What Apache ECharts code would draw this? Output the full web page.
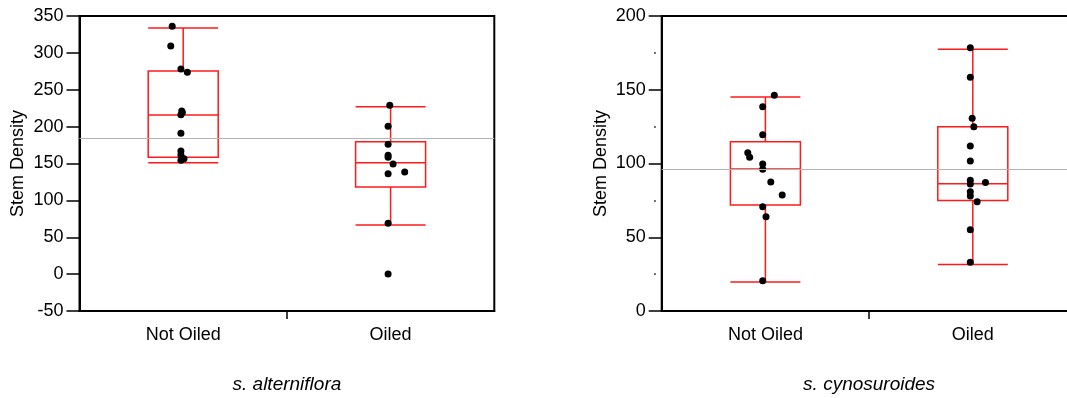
<!DOCTYPE html>
<html>
<head>
<meta charset="utf-8">
<script src="https://cdn.jsdelivr.net/npm/echarts@6/dist/echarts.min.js"></script>
<style>
  html, body { margin: 0; padding: 0; background: #fff; }
  #chart { width: 1067px; height: 398px; }
</style>
</head>
<body>
<div id="chart"></div>
<script>
// Categories and panel captions
const categories = ['Not Oiled', 'Oiled'];
const panelTitles = ['s. alterniflora', 's. cynosuroides'];
const yLabel = 'Stem Density';

// s. alterniflora: box stats [lower whisker, Q1, median, Q3, upper whisker]
const altBoxNotOiled = [151.1, 158.4, 215.8, 275.4, 333.7];
const altBoxOiled = [66.6, 118.1, 151.1, 179.6, 227.0];
// s. alterniflora: individual plots (value) and horizontal spread within the category
const altNotOiled = [336, 309.3, 278.1, 273.6, 221.2, 219, 216.2, 190.9, 167, 161.5, 156.5, 154.5];
const altNotOiledJitter = [-0.053, -0.060, -0.011, 0.020, -0.007, -0.004, -0.011, -0.011, -0.011, -0.011, 0.004, -0.011];
const altOiled = [228.9, 200.4, 176, 161.1, 158.4, 149.3, 136.2, 138.5, 68.9, 0.2];
const altOiledJitter = [-0.004, -0.012, -0.012, -0.012, -0.012, 0.012, -0.012, 0.068, -0.012, -0.012];
const altMean = 184.7;
const altAxis = { min: -50, max: 350, step: 50 };

// s. cynosuroides
const cynBoxNotOiled = [19.7, 71.9, 96.3, 114.8, 145.1];
const cynBoxOiled = [31.6, 75.0, 86.3, 125.0, 177.4];
const cynNotOiled = [146.2, 138.5, 119.5, 107.3, 104.2, 99.7, 96.1, 87.5, 78.6, 70.7, 63.9, 20.5];
const cynNotOiledJitter = [0.043, -0.013, -0.013, -0.085, -0.076, -0.013, -0.013, 0.026, 0.081, -0.013, 0.003, -0.013];
const cynOiled = [178.5, 158.4, 130.6, 125, 111.9, 101.7, 88.6, 87.2, 86.1, 80.9, 78, 74.1, 55.1, 33];
const cynOiledJitter = [-0.012, -0.012, -0.003, 0.005, -0.012, -0.012, -0.012, 0.061, -0.012, -0.012, -0.012, 0.021, -0.012, -0.012];
const cynMean = 96.3;
const cynAxis = { min: 0, max: 200, step: 50 };

const FONT = 'Liberation Sans, Arial, sans-serif';
const FS = 18;
const TITLE_FS = 19;
const RED = '#ff1a1a';

const panels = [
  { left: 79.5, title: panelTitles[0], axis: altAxis, boxes: [altBoxNotOiled, altBoxOiled],
    pts: [[altNotOiled, altNotOiledJitter], [altOiled, altOiledJitter]], mean: altMean, minor: false },
  { left: 661.7, title: panelTitles[1], axis: cynAxis, boxes: [cynBoxNotOiled, cynBoxOiled],
    pts: [[cynNotOiled, cynNotOiledJitter], [cynOiled, cynOiledJitter]], mean: cynMean, minor: true }
];
const GRID_TOP = 16, GRID_H = 295, GRID_W = 414.8;

const grid = [], xAxis = [], yAxis = [], series = [], graphic = [];

panels.forEach((p, gi) => {
  grid.push({
    left: p.left, top: GRID_TOP, width: GRID_W, height: GRID_H,
    show: true, borderColor: '#000', borderWidth: 2, backgroundColor: 'transparent',
    outerBoundsMode: 'none'
  });
  const valX = xAxis.length;
  // value x axis: category labels and the single divider tick
  xAxis.push({
    gridIndex: gi, type: 'value', min: 0, max: 2,
    axisLine: { show: true, onZero: false, lineStyle: { color: '#000', width: 2 } },
    axisTick: { show: true, customValues: [1], length: 8, lineStyle: { color: '#000', width: 1.5 } },
    axisLabel: {
      customValues: [0.5, 1.5], margin: 15, color: '#000', fontFamily: FONT, fontSize: FS,
      formatter: v => categories[Math.round(v - 0.5)]
    },
    splitLine: { show: false }
  });
  const catX = xAxis.length;
  xAxis.push({ gridIndex: gi, type: 'category', data: categories, show: false,
               axisLine: { onZero: false } });

  const yi = yAxis.length;
  yAxis.push({
    gridIndex: gi, type: 'value', min: p.axis.min, max: p.axis.max, interval: p.axis.step,
    name: yLabel, nameLocation: 'middle', nameRotate: 90, nameGap: 52,
    nameTextStyle: { color: '#000', fontFamily: FONT, fontSize: FS },
    axisLine: { show: true, onZero: false, lineStyle: { color: '#000', width: 2 } },
    axisTick: { show: true, length: 13, lineStyle: { color: '#000', width: 1.5 } },
    axisLabel: { margin: 16, color: '#000', fontFamily: FONT, fontSize: FS },
    splitLine: { show: false }
  });
  if (p.minor) {
    // small intermediate tick dots set slightly away from the axis line
    yAxis.push({
      gridIndex: gi, type: 'value', position: 'left', offset: 6,
      min: p.axis.min, max: p.axis.max, interval: p.axis.step,
      axisLine: { show: false, onZero: false }, axisTick: { show: false }, axisLabel: { show: false },
      splitLine: { show: false },
      minorTick: { show: true, splitNumber: 2, length: 1.5, lineStyle: { color: '#000', width: 1.5 } }
    });
  }

  series.push({
    type: 'boxplot', xAxisIndex: catX, yAxisIndex: yi,
    data: p.boxes,
    boxWidth: [70, 70],
    itemStyle: { color: 'transparent', borderColor: RED, borderWidth: 1.5 },
    emphasis: { disabled: true },
    markLine: {
      silent: true, symbol: 'none', label: { show: false },
      lineStyle: { color: '#b4b4b4', width: 1.2, type: 'solid' },
      data: [{ yAxis: p.mean }]
    },
    z: 2
  });
  p.pts.forEach(([vals, jit], ci) => {
    series.push({
      type: 'scatter', xAxisIndex: valX, yAxisIndex: yi,
      data: vals.map((v, k) => [ci + 0.5 + jit[k], v]),
      symbol: 'circle', symbolSize: 7,
      itemStyle: { color: '#000', opacity: 1 },
      emphasis: { disabled: true },
      z: 3
    });
  });

  graphic.push({
    type: 'text', x: p.left + GRID_W / 2, y: 385,
    style: { text: p.title, fill: '#000', font: 'italic ' + TITLE_FS + 'px ' + FONT,
             textAlign: 'center', textVerticalAlign: 'middle' }
  });
});

const chart = echarts.init(document.getElementById('chart'), null, { renderer: 'canvas' });
chart.setOption({
  animation: false,
  backgroundColor: '#fff',
  grid, xAxis, yAxis, series, graphic
});
</script>
</body>
</html>
